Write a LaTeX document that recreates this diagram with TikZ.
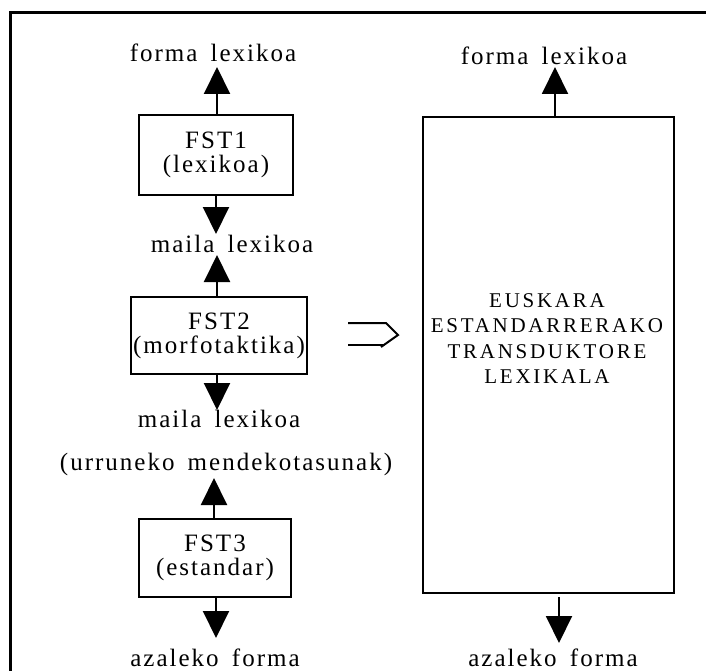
\documentclass[tikz,border=0pt]{standalone}
\usepackage{fontspec}
\setmainfont{Liberation Serif}
\newfontfamily\lblfont{Liberation Serif}[LetterSpace=8,WordSpace=1.6]
\newfontfamily\capsfont{Liberation Serif}[LetterSpace=13]
\usetikzlibrary{arrows.meta}

\begin{document}
\begin{tikzpicture}[x=1pt,y=-1pt,
  lbl/.style={font=\lblfont\fontsize{25}{25}\selectfont, inner sep=0pt, anchor=base},
  fstbox/.style={draw, line width=2pt, align=center, inner sep=0pt,
    font=\lblfont\fontsize{25}{24}\selectfont},
  conn/.style={line width=2pt, -{Triangle[width=26pt,length=27pt]}},
  frame/.style={line width=3pt},
  implies/.style={line width=2pt}
]
\useasboundingbox (0,0) rectangle (706,671);

% frame
\draw[frame] (10.5,671) -- (10.5,12.5) -- (706,12.5);

% left column: three transducers in a cascade
\node[fstbox, minimum width=154pt, minimum height=80pt] (fst1) at (216,155) {FST1\\(lexikoa)};
\node[fstbox, minimum width=176pt, minimum height=77pt] (fst2) at (219,335.5) {FST2\\(morfotaktika)};
\node[fstbox, minimum width=152pt, minimum height=78pt] (fst3) at (215,558) {FST3\\(estandar)};

\node[lbl] (l1) at (213,62) {forma lexikoa};
\node[lbl] (l2) at (232,252) {maila lexikoa};
\node[lbl] (l3) at (219,427) {maila lexikoa};
\node[lbl] (l4) at (226,470) {(urruneko mendekotasunak)};
\node[lbl] (l5) at (215,666) {azaleko forma};

\coordinate (t1) at (217,67);
\coordinate (t2) at (216,234);
\coordinate (t3) at (217,255);
\coordinate (t4) at (217,410);
\coordinate (t5) at (214,478);
\coordinate (t6) at (216,638);

\draw[conn] (t1 |- fst1.north) -- (t1);
\draw[conn] (t2 |- fst1.south) -- (t2);
\draw[conn] (t3 |- fst2.north) -- (t3);
\draw[conn] (t4 |- fst2.south) -- (t4);
\draw[conn] (t5 |- fst3.north) -- (t5);
\draw[conn] (t6 |- fst3.south) -- (t6);

% equivalence arrow
\coordinate (d1) at (348,323);
\coordinate (d2) at (386,323);
\coordinate (d3) at (398,335);
\coordinate (d4) at (381,347);
\coordinate (d5) at (348,345);
\coordinate (d6) at (384,345);
\draw[implies] (d1) -- (d2) -- (d3) -- (d4);
\draw[implies] (d5) -- (d6);

% right column: the single lexical transducer
\node[draw, line width=2pt, minimum width=251pt, minimum height=476pt, inner sep=0pt] (big) at (548.5,355) {};
\node[align=center, inner sep=0pt, anchor=north, font=\capsfont\fontsize{21}{25.5}\selectfont] (bigtext) at (547,293)
  {EUSKARA\\ESTANDARRERAKO\\TRANSDUKTORE\\LEXIKALA};

\node[lbl] (r1) at (544,65) {forma lexikoa};
\node[lbl] (r2) at (553,666) {azaleko forma};

\coordinate (t7) at (555,67);
\coordinate (s8) at (559,597);
\coordinate (t8) at (559,643);
\draw[conn] (t7 |- big.north) -- (t7);
\draw[conn] (s8) -- (t8);
\end{tikzpicture}
\end{document}
